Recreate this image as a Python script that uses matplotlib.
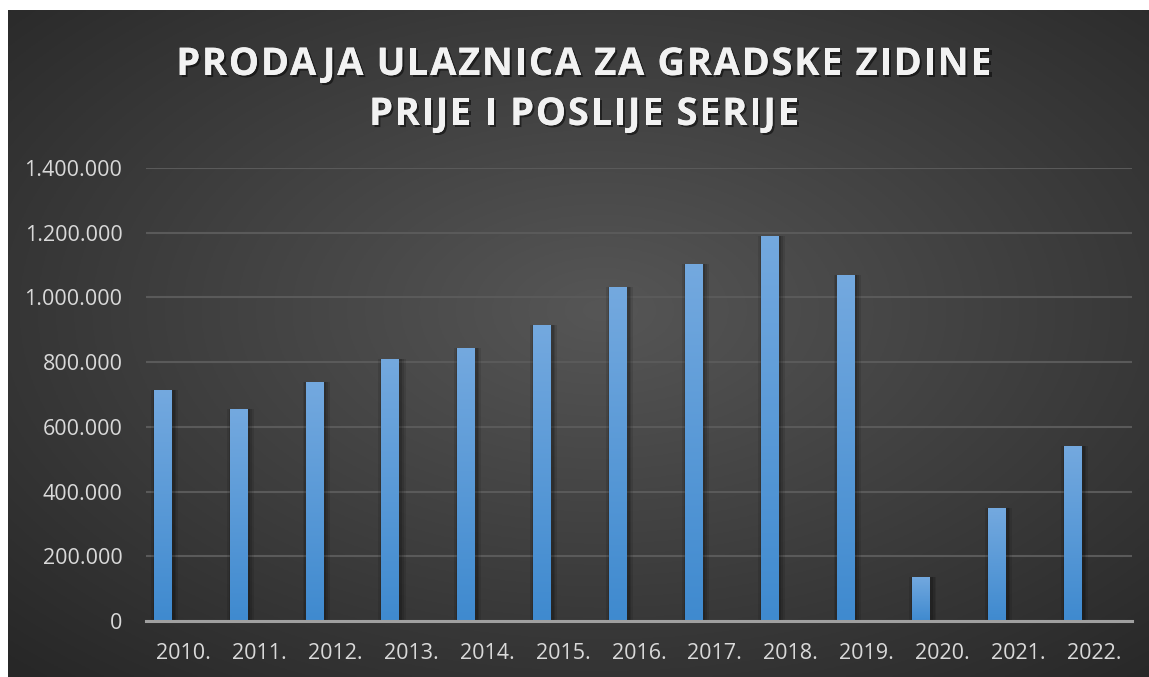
import numpy as np
import matplotlib
matplotlib.use("Agg")
import matplotlib.pyplot as plt
import matplotlib.patheffects as pe
from matplotlib.ticker import FuncFormatter

# podaci
godine = ["2010.", "2011.", "2012.", "2013.", "2014.", "2015.", "2016.",
          "2017.", "2018.", "2019.", "2020.", "2021.", "2022."]
ulaznice = [714000, 655000, 739000, 810000, 844000, 915000, 1032000,
            1103000, 1190000, 1069000, 136000, 349000, 541000]
y_ticks = [0, 200000, 400000, 600000, 800000, 1000000, 1200000, 1400000]
naslov = ["PRODAJA ULAZNICA ZA GRADSKE ZIDINE", "PRIJE I POSLIJE SERIJE"]

W, H = 1149, 677
fig = plt.figure(figsize=(W / 100, H / 100), dpi=100)
fig.patch.set_facecolor("white")

# pozadina - radijalni gradijent
bg = fig.add_axes([8 / W, 0, (W - 8) / W, (H - 10) / H])
bg.set_axis_off()
yy, xx = np.mgrid[0:1:300j, 0:1:500j]
r = np.sqrt(((xx - 0.52) / 0.75) ** 2 + ((yy - 0.55) / 0.75) ** 2)
r = np.clip(r, 0, 1)
c0 = np.array([0x56, 0x56, 0x56]) / 255
c1 = np.array([0x27, 0x27, 0x27]) / 255
img = c0[None, None, :] * (1 - r[..., None]) + c1[None, None, :] * r[..., None]
bg.imshow(img, extent=[0, 1, 0, 1], aspect="auto", origin="lower")
bg.set_xlim(0, 1)
bg.set_ylim(0, 1)

ax = fig.add_axes([146 / W, 56 / H, 986 / W, 453 / H])
ax.patch.set_alpha(0)
x = np.arange(len(godine))
pos = x - 0.277
sirina = 0.237

# sjena
for k, a in [(0.06, 0.10), (0.035, 0.12), (0.015, 0.15)]:
    ax.bar(pos + 0.02, ulaznice, width=sirina + 2 * k, color="black",
           alpha=a, zorder=2, linewidth=0)

bars = ax.bar(pos, ulaznice, width=sirina, color="#5b9bd5", zorder=3, linewidth=0)
grad = np.linspace(0, 1, 256).reshape(-1, 1)
top = np.array([0x74, 0xa9, 0xdf]) / 255
bot = np.array([0x3f, 0x8a, 0xcf]) / 255
gimg = bot[None, None, :] * (1 - grad[..., None]) + top[None, None, :] * grad[..., None]
for b in bars:
    bx, bw, bh = b.get_x(), b.get_width(), b.get_height()
    im = ax.imshow(gimg, extent=[bx, bx + bw, 0, bh], aspect="auto",
                   origin="lower", zorder=4)
    im.set_clip_path(b)

ax.set_xlim(-0.5, len(godine) - 0.5)
ax.set_ylim(0, 1400000)
ax.set_yticks(y_ticks)
ax.yaxis.set_major_formatter(FuncFormatter(lambda v, p: f"{int(v):,}".replace(",", ".")))
ax.set_xticks(x)
ax.set_xticklabels(godine)
ax.tick_params(axis="both", length=0, colors="#d9d9d9", labelsize=15.5)
ax.tick_params(axis="y", pad=17)
ax.tick_params(axis="x", pad=16)
for lab in ax.get_xticklabels() + ax.get_yticklabels():
    lab.set_fontfamily("Open Sans")

ax.grid(axis="y", color="#5a5a5a", linewidth=1.5, zorder=0)
ax.set_axisbelow(True)
for s in ["top", "right", "left"]:
    ax.spines[s].set_visible(False)
ax.spines["bottom"].set_color("#a0a0a0")
ax.spines["bottom"].set_linewidth(2.2)
ax.spines["bottom"].set_zorder(5)

# naslov s razmakom izmedu slova
renderer = fig.canvas.get_renderer()
tstyle = dict(fontsize=27.5, fontweight="bold", fontfamily="Open Sans",
              color="#f2f2f2",
              path_effects=[pe.withSimplePatchShadow(offset=(1.5, -1.5), alpha=0.5,
                                                     shadow_rgbFace="black"),
                            pe.Normal()])


def sirina_teksta(s):
    t = fig.text(0, 0, s + "I", **tstyle)
    t0 = fig.text(0, 0, "I", **tstyle)
    w = t.get_window_extent(renderer).width - t0.get_window_extent(renderer).width
    t.remove()
    t0.remove()
    return w


razmak = 1.6
for linija, y_base in zip(naslov, [75, 125]):
    ukupno = sirina_teksta(linija) + razmak * (len(linija) - 1)
    x0 = 584 - ukupno / 2
    for i, ch in enumerate(linija):
        if ch == " ":
            continue
        # polozaj s kerningom prema prethodnom slovu
        xp = x0 + sirina_teksta(linija[:i + 1]) - sirina_teksta(ch) + razmak * i
        fig.text(xp / W, 1 - y_base / H, ch, ha="left", va="baseline", **tstyle)

fig.savefig("out.png", dpi=100)
